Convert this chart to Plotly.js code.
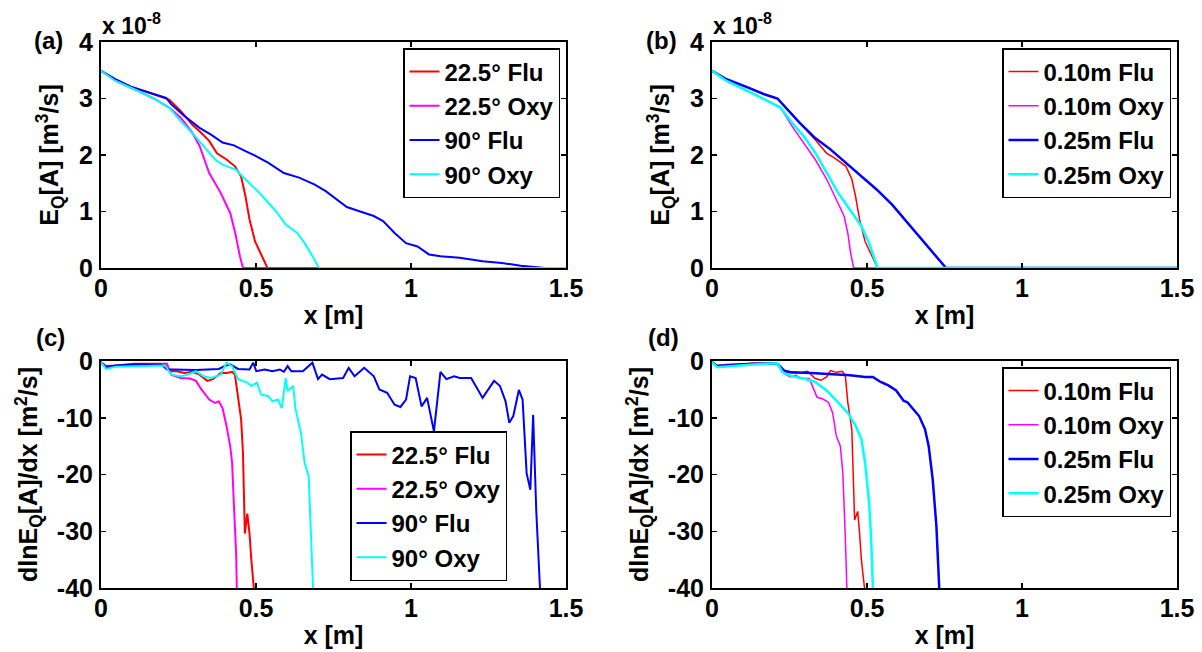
<!DOCTYPE html>
<html>
<head>
<meta charset="utf-8">
<script src="https://cdn.plot.ly/plotly-3.0.1.min.js"></script>
<style>html,body{margin:0;padding:0;background:#fff;}#chart{width:1202px;height:652px;}</style>
</head>
<body>
<div id="chart"></div>
<script>
// ---------- Panel (a): E_Q[A] (x 1e-8 m^3/s), angle comparison ----------
var a_flu225_x = [0,0.047,0.096,0.17,0.21,0.22,0.257,0.294,0.318,0.349,0.374,0.405,0.432,0.452,0.466,0.479,0.497,0.516,0.537,1.5];
var a_flu225_y = [3.49,3.34,3.21,3.08,3.01,2.98,2.78,2.54,2.42,2.25,2.03,1.92,1.80,1.62,1.27,0.86,0.47,0.24,0,0];
var a_oxy225_x = [0,0.047,0.109,0.17,0.22,0.257,0.294,0.318,0.349,0.386,0.417,0.433,0.448,0.458,1.5];
var a_oxy225_y = [3.49,3.31,3.16,3.0,2.84,2.66,2.40,2.16,1.68,1.33,0.97,0.62,0.21,0,0];
var a_flu90_x = [0,0.047,0.096,0.17,0.21,0.226,0.269,0.318,0.355,0.392,0.429,0.466,0.497,0.54,0.59,0.639,0.688,0.725,0.762,0.793,0.836,0.88,0.91,0.947,0.984,1.021,1.058,1.095,1.157,1.231,1.293,1.354,1.416,1.43,1.5];
var a_flu90_y = [3.49,3.34,3.21,3.08,3.01,2.90,2.69,2.48,2.36,2.22,2.17,2.07,1.99,1.86,1.68,1.60,1.48,1.36,1.21,1.08,1.00,0.92,0.83,0.62,0.44,0.38,0.24,0.21,0.18,0.12,0.09,0.04,0.01,0,0];
var a_oxy90_x = [0,0.047,0.109,0.17,0.22,0.257,0.294,0.331,0.368,0.392,0.435,0.466,0.516,0.565,0.596,0.633,0.657,0.682,0.703,1.5];
var a_oxy90_y = [3.49,3.31,3.16,3.0,2.84,2.60,2.39,2.16,1.92,1.83,1.74,1.57,1.30,1.00,0.77,0.62,0.44,0.21,0,0];

// ---------- Panel (b): E_Q[A], distance comparison ----------
var b_flu010_x = [0,0.047,0.109,0.171,0.211,0.233,0.283,0.333,0.37,0.395,0.432,0.451,0.463,0.476,0.494,0.513,0.534,1.5];
var b_flu010_y = [3.49,3.34,3.21,3.07,3.0,2.87,2.57,2.27,2.03,1.95,1.80,1.57,1.27,0.86,0.47,0.24,0,0];
var b_oxy010_x = [0,0.047,0.109,0.171,0.221,0.258,0.296,0.333,0.37,0.401,0.426,0.438,0.447,0.457,1.5];
var b_oxy010_y = [3.49,3.31,3.15,2.98,2.84,2.51,2.22,1.92,1.57,1.21,0.92,0.62,0.27,0,0];
var b_flu025_x = [0,0.047,0.109,0.171,0.211,0.233,0.283,0.333,0.382,0.432,0.482,0.531,0.581,0.631,0.68,0.718,0.755,1.5];
var b_flu025_y = [3.49,3.34,3.21,3.07,3.0,2.87,2.57,2.30,2.10,1.86,1.62,1.39,1.12,0.80,0.50,0.24,0,0];
var b_oxy025_x = [0,0.047,0.109,0.171,0.221,0.258,0.296,0.333,0.37,0.407,0.445,0.482,0.507,0.534,1.5];
var b_oxy025_y = [3.49,3.31,3.15,2.98,2.84,2.57,2.33,2.04,1.68,1.33,1.03,0.74,0.44,0,0];

// ---------- Panel (c): dlnE_Q[A]/dx, angle comparison ----------
var c_flu225_x = [0,0.016,0.047,0.109,0.17,0.21,0.22,0.244,0.269,0.294,0.318,0.343,0.361,0.386,0.405,0.423,0.432,0.442,0.452,0.458,0.464,0.472,0.479,0.485,0.493];
var c_flu225_y = [-0.2,-0.9,-0.8,-0.5,-0.5,-0.5,-1.8,-1.8,-2.1,-1.9,-2.4,-3.5,-3.2,-2.1,-2.1,-1.9,-2.4,-6.2,-10.3,-16.2,-30.4,-26.9,-30.4,-35.1,-40];
var c_oxy225_x = [0,0.016,0.047,0.17,0.213,0.226,0.257,0.288,0.306,0.324,0.349,0.368,0.38,0.392,0.405,0.417,0.423,0.429,0.436,0.438];
var c_oxy225_y = [-0.2,-1.2,-0.9,-0.6,-0.5,-2.4,-3.0,-3.1,-3.5,-5.0,-6.8,-7.4,-7.1,-8.3,-11.5,-15.1,-18.0,-25.7,-34.0,-40];
var c_flu90_x = [0,0.016,0.047,0.109,0.195,0.213,0.232,0.269,0.306,0.343,0.38,0.398,0.417,0.442,0.479,0.491,0.501,0.528,0.553,0.577,0.59,0.602,0.614,0.651,0.682,0.70,0.713,0.738,0.762,0.781,0.799,0.818,0.849,0.88,0.898,0.923,0.947,0.966,0.984,0.997,1.015,1.034,1.052,1.074,1.095,1.114,1.139,1.157,1.194,1.231,1.268,1.287,1.305,1.317,1.33,1.348,1.36,1.373,1.385,1.394,1.404,1.416];
var c_flu90_y = [-0.2,-1.1,-0.8,-0.6,-0.6,-1.5,-1.5,-1.6,-1.6,-1.5,-1.4,-0.9,-0.6,-1.4,-1.5,-0.3,-1.8,-1.5,-1.8,-1.5,-1.9,-0.9,-1.8,-1.8,-0.3,-3.2,-2.4,-3.2,-3.1,-3.0,-1.2,-2.7,-1.2,-2.7,-5.0,-5.6,-7.7,-8.1,-6.8,-2.7,-3.0,-8.0,-6.5,-12.4,-1.9,-3.2,-2.7,-3.0,-3.0,-6.5,-3.5,-4.4,-7.1,-10.9,-9.7,-5.1,-6.8,-19.8,-22.7,-9.5,-26.3,-40];
var c_oxy90_x = [0,0.016,0.047,0.17,0.207,0.226,0.257,0.281,0.306,0.331,0.355,0.386,0.405,0.423,0.442,0.472,0.485,0.503,0.516,0.54,0.553,0.571,0.583,0.596,0.602,0.62,0.627,0.645,0.657,0.67,0.678,0.684];
var c_oxy90_y = [-0.2,-1.4,-1.0,-0.8,-0.8,-2.4,-2.7,-2.4,-1.8,-2.7,-3.0,-2.4,-0.3,-0.9,-3.2,-3.8,-4.4,-3.8,-5.9,-6.2,-7.1,-6.8,-8.3,-3.0,-5.3,-4.4,-8.3,-12.7,-18.0,-20.4,-30.4,-40];

// ---------- Panel (d): dlnE_Q[A]/dx, distance comparison ----------
var d_flu010_x = [0,0.016,0.047,0.134,0.209,0.228,0.258,0.283,0.308,0.333,0.351,0.37,0.382,0.401,0.42,0.43,0.438,0.451,0.46,0.47,0.476,0.482,0.492];
var d_flu010_y = [-0.1,-0.8,-0.6,-0.4,-0.4,-2.0,-2.1,-2.1,-1.8,-3.1,-3.4,-2.8,-1.7,-2.0,-1.8,-2.5,-7.3,-12.0,-28.0,-26.5,-30.4,-35.1,-40];
var d_oxy010_x = [0,0.016,0.134,0.211,0.228,0.252,0.271,0.289,0.314,0.339,0.358,0.376,0.389,0.401,0.414,0.422,0.43,0.435];
var d_oxy010_y = [-0.1,-1.1,-0.5,-0.4,-2.0,-2.8,-2.5,-3.1,-3.1,-6.4,-6.7,-7.3,-9.1,-13.2,-15.0,-19.7,-31.0,-40];
var d_flu025_x = [0,0.016,0.134,0.211,0.233,0.258,0.32,0.382,0.445,0.494,0.519,0.544,0.569,0.594,0.618,0.631,0.65,0.668,0.687,0.699,0.712,0.724,0.733];
var d_flu025_y = [-0.1,-0.9,-0.5,-0.5,-1.7,-2.0,-2.1,-2.3,-2.5,-2.8,-2.8,-3.7,-4.3,-5.2,-7.0,-7.3,-8.5,-9.7,-12.0,-15.0,-20.9,-29.2,-40];
var d_oxy025_x = [0,0.016,0.134,0.211,0.228,0.258,0.296,0.333,0.37,0.407,0.438,0.463,0.482,0.494,0.507,0.513,0.519];
var d_oxy025_y = [-0.1,-1.1,-0.6,-0.4,-2.0,-2.7,-3.1,-3.7,-5.2,-7.3,-9.1,-11.4,-13.8,-18.0,-25.1,-31.0,-40];

// ---------- labels ----------
var namesAngle = ["22.5\u00b0 Flu", "22.5\u00b0 Oxy", "90\u00b0 Flu", "90\u00b0 Oxy"];
var namesDist = ["0.10m Flu", "0.10m Oxy", "0.25m Flu", "0.25m Oxy"];
var seriesColors = ["#ff0000", "#ff00ff", "#0000ff", "#00ffff"];
var xTickVals = [0, 0.5, 1, 1.5];
var xTickText = ["0", "0.5", "1", "1.5"];
var eqTickVals = [0, 1, 2, 3, 4];
var eqTickText = ["0", "1", "2", "3", "4"];
var dTickVals = [0, -10, -20, -30, -40];
var dTickText = ["0", "-10", "-20", "-30", "-40"];

var FONT = "Liberation Sans, Arial, Helvetica, sans-serif";

function tr(x, y, name, color, xa, ya, leg, w) {
  return {type: "scatter", mode: "lines", x: x, y: y, name: name, xaxis: xa, yaxis: ya,
          legend: leg, line: {color: color, width: w}, hoverinfo: "skip"};
}

var data = [
  tr(a_flu225_x, a_flu225_y, namesAngle[0], seriesColors[0], "x", "y", "legend", 2),
  tr(a_oxy225_x, a_oxy225_y, namesAngle[1], seriesColors[1], "x", "y", "legend", 2),
  tr(a_flu90_x, a_flu90_y, namesAngle[2], seriesColors[2], "x", "y", "legend", 2),
  tr(a_oxy90_x, a_oxy90_y, namesAngle[3], seriesColors[3], "x", "y", "legend", 2),
  tr(b_flu010_x, b_flu010_y, namesDist[0], seriesColors[0], "x2", "y2", "legend2", 1.5),
  tr(b_oxy010_x, b_oxy010_y, namesDist[1], seriesColors[1], "x2", "y2", "legend2", 1.5),
  tr(b_flu025_x, b_flu025_y, namesDist[2], seriesColors[2], "x2", "y2", "legend2", 2.5),
  tr(b_oxy025_x, b_oxy025_y, namesDist[3], seriesColors[3], "x2", "y2", "legend2", 2.5),
  tr(c_flu225_x, c_flu225_y, namesAngle[0], seriesColors[0], "x3", "y3", "legend3", 2),
  tr(c_oxy225_x, c_oxy225_y, namesAngle[1], seriesColors[1], "x3", "y3", "legend3", 2),
  tr(c_flu90_x, c_flu90_y, namesAngle[2], seriesColors[2], "x3", "y3", "legend3", 2),
  tr(c_oxy90_x, c_oxy90_y, namesAngle[3], seriesColors[3], "x3", "y3", "legend3", 2),
  tr(d_flu010_x, d_flu010_y, namesDist[0], seriesColors[0], "x4", "y4", "legend4", 1.5),
  tr(d_oxy010_x, d_oxy010_y, namesDist[1], seriesColors[1], "x4", "y4", "legend4", 1.5),
  tr(d_flu025_x, d_flu025_y, namesDist[2], seriesColors[2], "x4", "y4", "legend4", 2.5),
  tr(d_oxy025_x, d_oxy025_y, namesDist[3], seriesColors[3], "x4", "y4", "legend4", 2.5)
];

var W = 1202, H = 652;
function px(v) { return v / W; }
function py(v) { return 1 - v / H; }

function xax(l, r, anchor) {
  return {domain: [px(l), px(r)], range: [0, 1.5], anchor: anchor, tickvals: xTickVals, ticktext: xTickText,
          ticks: "inside", ticklen: 5, tickwidth: 1.5, tickcolor: "#000", showline: true, linewidth: 2, linecolor: "#000",
          mirror: "ticks", showgrid: false, zeroline: false, automargin: false, fixedrange: true,
          tickfont: {size: 25}, ticklabelstandoff: -3,
          title: {text: "x [m]", font: {size: 25}, standoff: 5}};
}
function yax(t, b, anchor, range, tv, tt, title, so) {
  return {domain: [py(b), py(t)], range: range, anchor: anchor, tickvals: tv, ticktext: tt,
          ticks: "inside", ticklen: 5, tickwidth: 1.5, tickcolor: "#000", showline: true, linewidth: 2, linecolor: "#000",
          mirror: "ticks", showgrid: false, zeroline: false, automargin: false, fixedrange: true,
          tickfont: {size: 25}, ticklabelstandoff: 1,
          title: {text: title, font: {size: 25}, standoff: so}};
}

var eqTitle = "E<sub>Q</sub>[A] [m<sup>3</sup>/s]";
var dTitle = "dlnE<sub>Q</sub>[A]/dx [m<sup>2</sup>/s]";

function leg(x, y, xa, ya) {
  return {x: x, y: y, xanchor: xa, yanchor: ya, xref: "paper", yref: "paper", bgcolor: "#ffffff",
          bordercolor: "#000", borderwidth: 1.5, font: {size: 24}, itemwidth: 30, tracegroupgap: 0};
}

var layout = {
  width: W, height: H, margin: {l: 0, r: 0, t: 0, b: 0},
  paper_bgcolor: "#fff", plot_bgcolor: "#fff",
  font: {family: FONT, weight: "bold", color: "#000", size: 24},
  xaxis: xax(101, 566, "y"),
  yaxis: yax(42, 268, "x", [0, 4], eqTickVals, eqTickText, eqTitle, 13),
  xaxis2: xax(712, 1177, "y2"),
  yaxis2: yax(42, 268, "x2", [0, 4], eqTickVals, eqTickText, eqTitle, 13),
  xaxis3: xax(101, 566, "y3"),
  yaxis3: yax(361, 588, "x3", [-40, 0], dTickVals, dTickText, dTitle, 12),
  xaxis4: xax(712, 1177, "y4"),
  yaxis4: yax(361, 588, "x4", [-40, 0], dTickVals, dTickText, dTitle, 12),
  legend: leg(px(560), py(48), "right", "top"),
  legend2: leg(px(1171), py(48), "right", "top"),
  legend3: leg(px(507), py(581), "right", "bottom"),
  legend4: leg(px(1171), py(367), "right", "top"),
  showlegend: true,
  annotations: [
    {text: "(a)", x: px(48), y: py(41), xref: "paper", yref: "paper", showarrow: false, xanchor: "center", yanchor: "middle", font: {size: 24}},
    {text: "(b)", x: px(661), y: py(41), xref: "paper", yref: "paper", showarrow: false, xanchor: "center", yanchor: "middle", font: {size: 24}},
    {text: "(c)", x: px(51), y: py(337), xref: "paper", yref: "paper", showarrow: false, xanchor: "center", yanchor: "middle", font: {size: 24}},
    {text: "(d)", x: px(663), y: py(337), xref: "paper", yref: "paper", showarrow: false, xanchor: "center", yanchor: "middle", font: {size: 24}},
    {text: "x 10<sup>-8</sup>", x: px(100), y: py(24), xref: "paper", yref: "paper", showarrow: false, xanchor: "left", yanchor: "middle", font: {size: 23}},
    {text: "x 10<sup>-8</sup>", x: px(711), y: py(24), xref: "paper", yref: "paper", showarrow: false, xanchor: "left", yanchor: "middle", font: {size: 23}}
  ]
};

Plotly.newPlot("chart", data, layout, {displayModeBar: false, staticPlot: true});
</script>
</body>
</html>
